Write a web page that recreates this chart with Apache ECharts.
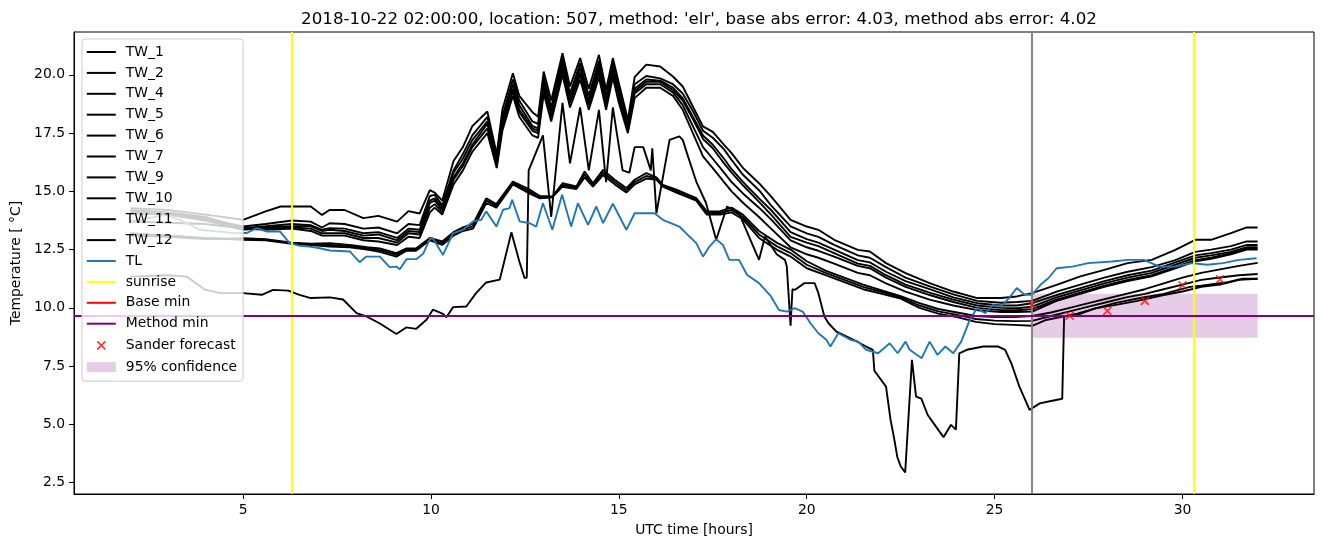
<!DOCTYPE html>
<html>
<head>
<meta charset="utf-8">
<script src="https://cdn.jsdelivr.net/npm/echarts@6/dist/echarts.min.js"></script>
<style>html,body{margin:0;padding:0;background:#fff}#c{width:1324px;height:547px}</style>
</head>
<body>
<div id="c"></div>
<script>
const titleText = "2018-10-22 02:00:00, location: 507, method: 'elr', base abs error: 4.03, method abs error: 4.02";
const xTicks = [5, 10, 15, 20, 25, 30];
const yTicks = [2.5, 5.0, 7.5, 10.0, 12.5, 15.0, 17.5, 20.0];

const tw1 = [[2,14.28],[3,14.2],[4,14.0],[5,13.78],[5.6,14.14],[6.0,14.35],[6.8,14.35],[7.1,13.99],[7.3,14.2],[7.7,14.2],[8.2,13.85],[8.6,13.95],[9.1,13.7],[9.4,14.15],[9.7,14.05],[9.97,15.05],[10.1,14.95],[10.3,14.6],[10.6,16.3],[10.85,16.9],[11.1,17.8],[11.5,18.43],[11.75,16.6],[11.9,18.5],[12.18,20.07],[12.35,19.1],[12.7,18.4],[12.85,18.2],[13.0,20.14],[13.2,18.9],[13.5,20.93],[13.7,19.5],[13.97,20.72],[14.2,19.4],[14.47,20.86],[14.66,19.36],[14.84,20.72],[15.0,19.65],[15.24,18.07],[15.42,19.9],[15.73,20.44],[16.1,20.36],[16.44,19.93],[16.7,19.5],[16.97,18.64],[17.24,17.79],[17.5,17.55],[17.8,17.0],[18.0,16.64],[18.31,15.99],[18.73,15.35],[19.05,14.78],[19.57,13.78],[20.0,13.49],[20.31,13.35],[20.73,12.92],[21.36,12.49],[21.68,12.42],[22.11,11.92],[22.63,11.49],[23.27,11.06],[23.9,10.70],[24.54,10.42],[25.17,10.42],[25.59,10.49],[26.0,10.63],[26.65,10.99],[27.28,11.35],[27.92,11.63],[28.54,11.92],[29.18,12.06],[29.81,12.49],[30.34,12.92],[30.76,12.92],[31.29,13.21],[31.71,13.45],[32,13.45]];
const tw2 = [[2,14.14],[3,14.05],[4,13.85],[5,13.49],[5.6,13.6],[6.3,13.75],[6.8,13.7],[7.1,13.45],[7.3,13.63],[7.7,13.6],[8.2,13.4],[8.6,13.45],[9.1,13.2],[9.4,13.6],[9.7,13.55],[9.97,14.8],[10.1,14.85],[10.3,14.4],[10.6,15.9],[10.85,16.6],[11.1,17.4],[11.5,18.2],[11.75,16.5],[11.9,18.2],[12.18,19.8],[12.35,18.9],[12.7,18.0],[12.85,17.9],[13.0,19.9],[13.2,18.6],[13.5,20.7],[13.7,19.2],[13.97,20.5],[14.2,19.1],[14.47,20.6],[14.66,19.1],[14.84,20.5],[15.0,19.4],[15.24,17.9],[15.42,19.6],[15.73,19.95],[16.1,19.85],[16.44,19.6],[16.7,19.2],[16.97,18.45],[17.24,17.6],[17.5,17.3],[17.8,16.8],[18.0,16.35],[18.31,15.7],[18.73,15.05],[19.05,14.4],[19.57,13.5],[20.0,13.2],[20.31,13.05],[20.73,12.7],[21.36,12.25],[21.68,12.15],[22.11,11.75],[22.63,11.3],[23.27,10.92],[23.9,10.58],[24.54,10.3],[25.17,10.22],[25.59,10.25],[26.0,10.3],[26.65,10.7],[27.28,11.0],[27.92,11.3],[28.54,11.55],[29.18,11.75],[29.81,12.05],[30.34,12.4],[30.76,12.5],[31.29,12.65],[31.71,12.85],[32,12.85]];
const tw4 = [[2,14.2],[3,14.1],[4,13.9],[5,13.42],[5.6,13.5],[6.3,13.6],[6.8,13.55],[7.1,13.35],[7.3,13.42],[7.7,13.4],[8.2,13.2],[8.6,13.25],[9.1,13.0],[9.4,13.4],[9.7,13.35],[9.97,14.6],[10.1,14.7],[10.3,14.3],[10.6,15.8],[10.85,16.4],[11.1,17.2],[11.5,18.0],[11.75,16.4],[11.9,18.0],[12.18,19.6],[12.35,18.7],[12.7,17.8],[12.85,17.7],[13.0,19.7],[13.2,18.4],[13.5,20.5],[13.7,19.0],[13.97,20.3],[14.2,18.9],[14.47,20.4],[14.66,18.9],[14.84,20.3],[15.0,19.2],[15.24,17.8],[15.42,19.4],[15.73,19.8],[16.1,19.75],[16.44,19.45],[16.7,19.0],[16.97,18.2],[17.24,17.4],[17.5,17.0],[17.8,16.4],[18.0,15.95],[18.31,15.4],[18.73,14.7],[19.05,14.2],[19.57,13.25],[20.0,12.95],[20.31,12.8],[20.73,12.5],[21.36,12.05],[21.68,11.95],[22.11,11.55],[22.63,11.15],[23.27,10.8],[23.9,10.45],[24.54,10.2],[25.17,10.1],[25.59,10.1],[26.0,10.2],[26.65,10.55],[27.28,10.85],[27.92,11.15],[28.54,11.4],[29.18,11.6],[29.81,11.95],[30.34,12.25],[30.76,12.35],[31.29,12.5],[31.71,12.7],[32,12.7]];
const tw5 = [[2,14.05],[3,14.0],[4,13.75],[5,13.35],[5.6,13.45],[6.3,13.5],[6.8,13.5],[7.1,13.3],[7.3,13.35],[7.7,13.3],[8.2,13.1],[8.6,13.15],[9.1,12.9],[9.4,13.3],[9.7,13.25],[9.97,14.5],[10.1,14.6],[10.3,14.2],[10.6,15.6],[10.85,16.2],[11.1,17.0],[11.5,17.9],[11.75,16.3],[11.9,17.9],[12.18,19.4],[12.35,18.5],[12.7,17.7],[12.85,17.6],[13.0,19.5],[13.2,18.3],[13.5,20.3],[13.7,18.9],[13.97,20.1],[14.2,18.8],[14.47,20.2],[14.66,18.8],[14.84,20.2],[15.0,19.1],[15.24,17.7],[15.42,19.3],[15.73,19.7],[16.1,19.7],[16.44,19.35],[16.7,18.9],[16.97,18.1],[17.24,17.25],[17.5,16.85],[17.8,16.2],[18.0,15.8],[18.31,15.25],[18.73,14.55],[19.05,14.0],[19.57,13.05],[20.0,12.8],[20.31,12.65],[20.73,12.35],[21.36,11.9],[21.68,11.8],[22.11,11.4],[22.63,11.0],[23.27,10.65],[23.9,10.35],[24.54,10.1],[25.17,10.0],[25.59,9.98],[26.0,10.05],[26.65,10.45],[27.28,10.75],[27.92,11.05],[28.54,11.3],[29.18,11.5],[29.81,11.85],[30.34,12.15],[30.76,12.25],[31.29,12.4],[31.71,12.6],[32,12.6]];
const tw6 = [[2,14.1],[3,14.0],[4,13.8],[5,13.45],[5.6,13.4],[6.3,13.45],[6.8,13.4],[7.1,13.2],[7.3,13.2],[7.7,13.2],[8.2,13.0],[8.6,13.0],[9.1,12.8],[9.4,13.2],[9.7,13.15],[9.97,14.3],[10.1,14.45],[10.3,14.1],[10.6,15.5],[10.85,16.1],[11.1,16.9],[11.5,17.7],[11.75,16.2],[11.9,17.8],[12.18,19.3],[12.35,18.4],[12.7,17.6],[12.85,17.5],[13.0,19.4],[13.2,18.2],[13.5,20.2],[13.7,18.8],[13.97,20.0],[14.2,18.7],[14.47,20.1],[14.66,18.7],[14.84,20.1],[15.0,19.0],[15.24,17.6],[15.42,19.2],[15.73,19.6],[16.1,19.6],[16.44,19.25],[16.7,18.7],[16.97,17.8],[17.24,16.9],[17.5,16.4],[17.8,15.8],[18.0,15.4],[18.31,14.9],[18.73,14.3],[19.05,13.8],[19.57,12.9],[20.0,12.6],[20.31,12.45],[20.73,12.2],[21.36,11.8],[21.68,11.7],[22.11,11.3],[22.63,10.9],[23.27,10.55],[23.9,10.25],[24.54,10.0],[25.17,9.9],[25.59,9.9],[26.0,9.94],[26.65,10.35],[27.28,10.65],[27.92,10.95],[28.54,11.2],[29.18,11.4],[29.81,11.75],[30.34,12.05],[30.76,12.15],[31.29,12.35],[31.71,12.55],[32,12.55]];
const tw7 = [[2,13.7],[3,13.65],[4,13.6],[5,13.4],[5.6,13.35],[6.3,13.4],[6.8,13.3],[7.1,13.1],[7.3,13.1],[7.7,13.1],[8.2,12.9],[8.6,12.85],[9.1,12.7],[9.4,13.05],[9.7,13.0],[9.97,14.1],[10.1,14.3],[10.3,14.0],[10.6,15.3],[10.85,15.9],[11.1,16.7],[11.5,17.5],[11.75,16.0],[11.9,17.6],[12.18,19.1],[12.35,18.2],[12.7,17.4],[12.85,17.3],[13.0,19.2],[13.2,18.0],[13.5,20.0],[13.7,18.6],[13.97,19.8],[14.2,18.5],[14.47,19.9],[14.66,18.5],[14.84,19.9],[15.0,18.8],[15.24,17.5],[15.42,19.0],[15.73,19.45],[16.1,19.45],[16.44,19.1],[16.7,18.5],[16.97,17.5],[17.24,16.5],[17.5,16.0],[17.8,15.4],[18.0,15.0],[18.31,14.5],[18.73,13.9],[19.05,13.4],[19.57,12.6],[20.0,12.3],[20.31,12.15],[20.73,11.9],[21.36,11.5],[21.68,11.4],[22.11,11.05],[22.63,10.7],[23.27,10.35],[23.9,10.1],[24.54,9.9],[25.17,9.82],[25.59,9.82],[26.0,9.84],[26.65,10.3],[27.28,10.6],[27.92,10.9],[28.54,11.15],[29.18,11.35],[29.81,11.7],[30.34,12.0],[30.76,12.1],[31.29,12.3],[31.71,12.5],[32,12.5]];
const tw9 = [[2,13.1],[3,13.05],[4,12.95],[5,12.99],[5.6,12.95],[6.3,12.8],[6.8,12.75],[7.3,12.78],[7.84,12.7],[8.3,12.6],[8.64,12.55],[9.08,12.35],[9.35,12.55],[9.6,12.55],[9.97,13.0],[10.3,12.85],[10.6,13.25],[10.85,13.45],[11.12,13.6],[11.47,14.7],[11.74,14.45],[12.18,15.42],[12.63,15.07],[12.9,14.8],[13.23,14.78],[13.5,15.35],[13.87,15.21],[14.09,15.85],[14.31,15.35],[14.58,15.92],[14.89,15.5],[15.2,15.14],[15.42,15.5],[15.73,15.78],[16.0,15.6],[16.17,15.28],[16.53,15.07],[17.06,14.71],[17.34,14.14],[17.7,14.15],[18.0,14.3],[18.3,14.0],[18.73,13.3],[19.2,12.8],[19.57,12.5],[20.0,12.0],[20.5,11.6],[21.0,11.3],[21.5,11.0],[22.0,10.75],[22.5,10.5],[23.0,10.2],[23.5,9.95],[24.0,9.8],[24.5,9.65],[25.0,9.6],[25.5,9.6],[26.0,9.65],[26.5,9.8],[27.0,10.0],[27.5,10.2],[28.0,10.4],[28.5,10.6],[29.0,10.8],[29.5,11.05],[30.0,11.3],[30.5,11.5],[31.0,11.65],[31.5,11.8],[32,11.93]];
const tw10 = [[2,13.2],[3,13.1],[4,13.0],[5,12.92],[5.6,12.9],[6.3,12.75],[6.8,12.7],[7.3,12.63],[7.84,12.6],[8.3,12.5],[8.64,12.4],[9.08,12.2],[9.35,12.45],[9.6,12.45],[9.97,12.9],[10.3,12.7],[10.6,13.1],[10.85,13.3],[11.12,13.4],[11.47,14.5],[11.74,14.3],[12.18,15.3],[12.63,14.9],[12.9,14.7],[13.23,14.75],[13.5,15.2],[13.87,15.1],[14.09,15.6],[14.31,15.2],[14.58,15.7],[14.89,15.3],[15.2,14.95],[15.42,15.3],[15.73,15.55],[16.0,15.5],[16.17,15.2],[16.53,14.95],[17.06,14.6],[17.34,14.0],[17.7,14.0],[18.0,14.1],[18.3,13.8],[18.73,13.0],[19.2,12.5],[19.57,12.2],[20.0,11.7],[20.5,11.4],[21.0,11.1],[21.5,10.8],[22.0,10.6],[22.5,10.4],[23.0,10.0],[23.5,9.75],[24.0,9.6],[24.5,9.4],[25.0,9.3],[25.5,9.27],[26.0,9.23],[26.37,9.48],[26.82,9.63],[27.2,9.75],[27.68,9.98],[28.3,10.15],[28.8,10.3],[29.5,10.55],[30.0,10.7],[30.5,10.9],[31.0,11.0],[31.5,11.2],[32,11.25]];
const tw11 = [[2,11.34],[3,11.4],[3.5,11.34],[4,10.77],[4.4,10.63],[5,10.63],[5.5,10.56],[5.8,10.77],[6.2,10.74],[6.5,10.56],[6.8,10.42],[7.31,10.45],[7.66,10.36],[8.02,9.77],[8.28,9.63],[8.63,9.34],[9.08,8.88],[9.34,9.16],[9.61,9.10],[9.88,9.49],[10.05,9.92],[10.32,9.74],[10.41,9.60],[10.59,10.03],[10.94,10.06],[11.2,10.63],[11.47,11.09],[11.83,11.21],[12.14,13.24],[12.35,12.0],[12.49,11.28],[12.55,11.3],[12.6,15.9],[12.98,17.4],[13.2,13.9],[13.5,18.8],[13.7,16.2],[13.97,18.6],[14.2,15.9],[14.47,18.5],[14.66,15.4],[14.84,18.6],[15.1,15.9],[15.28,15.8],[15.42,16.9],[15.65,16.9],[15.85,15.9],[15.89,16.85],[16.0,14.06],[16.35,17.21],[16.61,17.36],[16.7,17.21],[16.84,16.5],[17.06,15.42],[17.32,14.5],[17.59,12.92],[17.62,12.92],[17.88,14.35],[18.2,14.06],[18.73,12.06],[18.89,13.06],[19.2,12.3],[19.42,12.06],[19.47,11.77],[19.57,9.23],[19.62,10.8],[19.68,10.77],[19.94,11.06],[20.21,11.06],[20.31,10.63],[20.47,9.63],[20.58,9.34],[20.79,8.98],[21.26,8.62],[21.58,8.34],[21.76,8.2],[21.8,7.3],[22.11,6.62],[22.23,5.2],[22.32,4.45],[22.41,3.6],[22.5,3.2],[22.62,2.93],[22.8,7.77],[22.91,6.19],[23.05,6.1],[23.22,5.4],[23.44,4.9],[23.64,4.45],[23.84,4.98],[23.97,4.77],[24.06,8.05],[24.26,8.2],[24.7,8.34],[25.1,8.34],[25.28,8.2],[25.45,7.6],[25.66,6.62],[25.93,5.62],[26.2,5.9],[26.5,6.0],[26.8,6.1],[26.85,9.63],[27.2,9.7],[27.68,9.98],[28.2,10.2],[28.8,10.4],[29.5,10.6],[30.2,10.9],[30.5,10.95],[31.2,11.1],[31.6,11.25],[32,11.25]];
const tw12 = [[2,13.15],[3,13.1],[4,12.98],[5,12.95],[5.6,12.92],[6.3,12.78],[6.8,12.72],[7.3,12.7],[7.84,12.65],[8.3,12.55],[8.64,12.48],[9.08,12.28],[9.35,12.5],[9.6,12.5],[9.97,12.95],[10.3,12.78],[10.6,13.18],[10.85,13.38],[11.12,13.5],[11.47,14.6],[11.74,14.38],[12.18,15.36],[12.63,14.98],[12.9,14.75],[13.23,14.76],[13.5,15.28],[13.87,15.15],[14.09,15.72],[14.31,15.28],[14.58,15.8],[14.89,15.4],[15.2,15.05],[15.42,15.4],[15.73,15.66],[16.0,15.55],[16.17,15.24],[16.53,15.0],[17.06,14.65],[17.34,14.07],[17.7,14.07],[18.0,14.2],[18.3,13.9],[18.73,13.15],[19.2,12.65],[19.57,12.35],[20.0,11.85],[20.5,11.5],[21.0,11.2],[21.5,10.9],[22.0,10.68],[22.5,10.45],[23.0,10.1],[23.5,9.85],[24.0,9.7],[24.5,9.52],[25.0,9.45],[25.5,9.43],[26.0,9.44],[26.5,9.65],[27.0,9.85],[27.5,10.05],[28.0,10.25],[28.5,10.45],[29.0,10.6],[29.5,10.8],[30.0,11.0],[30.5,11.2],[31.0,11.3],[31.5,11.4],[32,11.45]];
const tl = [[2,13.71],[2.96,13.99],[3.41,13.71],[3.85,13.35],[4.73,13.21],[5.09,13.21],[5.36,13.42],[5.62,13.28],[5.98,13.28],[6.24,12.78],[6.51,12.66],[6.77,12.63],[7.04,12.56],[7.31,12.46],[7.84,12.42],[8.10,11.96],[8.28,12.2],[8.64,12.2],[8.90,11.75],[9.08,11.77],[9.17,11.66],[9.35,12.09],[9.61,12.09],[9.79,12.32],[9.97,12.95],[10.05,12.99],[10.32,12.27],[10.59,13.21],[10.85,13.35],[11.12,13.71],[11.34,13.78],[11.47,14.14],[11.74,13.49],[11.92,14.21],[12.09,14.28],[12.16,14.64],[12.36,13.71],[12.63,13.63],[12.80,13.49],[12.98,14.49],[13.23,13.35],[13.49,14.85],[13.73,13.49],[13.91,14.49],[14.18,13.56],[14.40,14.35],[14.58,13.64],[14.84,14.47],[15.20,13.35],[15.42,14.06],[15.95,14.06],[16.17,13.78],[16.61,13.49],[16.88,13.06],[17.06,12.78],[17.24,12.2],[17.41,12.63],[17.59,12.95],[17.77,12.7],[17.94,12.06],[18.2,12.06],[18.41,11.42],[18.73,11.06],[19.05,10.49],[19.26,9.91],[19.47,9.84],[19.68,9.99],[19.89,9.84],[20.1,9.34],[20.31,8.91],[20.52,8.63],[20.63,8.34],[20.84,8.91],[21.16,8.63],[21.37,8.55],[21.58,8.2],[21.9,8.05],[22.21,8.48],[22.42,8.05],[22.63,8.55],[22.74,8.2],[23.06,7.84],[23.27,8.55],[23.48,7.98],[23.69,8.34],[23.9,8.05],[24.11,8.55],[24.32,9.41],[24.53,9.99],[24.75,9.77],[24.96,10.13],[25.17,10.06],[25.38,10.41],[25.59,10.85],[25.8,10.56],[25.99,10.56],[26.22,10.99],[26.43,11.27],[26.65,11.7],[27.07,11.77],[27.49,11.92],[28.12,11.99],[28.55,12.06],[28.97,12.06],[29.39,11.77],[29.81,11.77],[30.23,11.92],[30.66,11.85],[31.08,11.92],[31.5,12.06],[31.97,12.13]];

const sunriseX = [6.3, 30.3];
const nowX = 26;
const baseMin = 9.66;
const methodMin = 9.66;
const forecastX = [26, 27, 28, 29, 30, 31];
const forecastY = [10.13, 9.66, 9.87, 10.30, 10.97, 11.23];
const confX = [26, 32];
const confY = [8.72, 10.60];

const twNames = ['TW_1','TW_2','TW_4','TW_5','TW_6','TW_7','TW_9','TW_10','TW_11','TW_12'];
const twData = [tw1, tw2, tw4, tw5, tw6, tw7, tw9, tw10, tw11, tw12];

const FONT = 'DejaVu Sans';
const FS = 13.9;
const LW = 1.9;
const lineIcon = 'path://M0,0M29,14M0,6L29,6L29,8L0,8Z';
const xIcon = 'path://M0,0M29,14M10.5,3L18.5,11M18.5,3L10.5,11';
const rectIcon = 'path://M0,0M29,14M0,2L29,2L29,12L0,12Z';

const series = [];
twData.forEach((d, i) => {
  series.push({
    name: twNames[i], type: 'line', data: d, symbol: 'none', z: 2,
    lineStyle: { color: '#000', width: LW }, itemStyle: { color: '#000' }
  });
});
series.push({ name: 'TL', type: 'line', data: tl, symbol: 'none', z: 2,
  lineStyle: { color: '#1f77b4', width: LW }, itemStyle: { color: '#1f77b4' } });
series.push({ name: 'sunrise', type: 'line', data: [], symbol: 'none', z: 3,
  itemStyle: { color: '#ffff00' },
  markLine: { silent: true, symbol: 'none', animation: false, label: { show: false },
    lineStyle: { color: '#ffff00', width: LW, type: 'solid' },
    data: sunriseX.map(v => ({ xAxis: v })) } });
series.push({ name: 'now', type: 'line', data: [], symbol: 'none', z: 3,
  markLine: { silent: true, symbol: 'none', animation: false, label: { show: false },
    lineStyle: { color: '#808080', width: LW, type: 'solid' },
    data: [{ xAxis: nowX }] } });
series.push({ name: 'Base min', type: 'line', data: [], symbol: 'none', z: 3,
  itemStyle: { color: '#ff0000' },
  markLine: { silent: true, symbol: 'none', animation: false, label: { show: false },
    lineStyle: { color: '#ff0000', width: LW, type: 'solid' },
    data: [{ yAxis: baseMin }] } });
series.push({ name: 'Method min', type: 'line', data: [], symbol: 'none', z: 4,
  itemStyle: { color: '#800080' },
  markLine: { silent: true, symbol: 'none', animation: false, label: { show: false },
    lineStyle: { color: '#800080', width: LW, type: 'solid' },
    data: [{ yAxis: methodMin }] } });
series.push({ name: '95% confidence', type: 'line', data: [], symbol: 'none', z: 4,
  itemStyle: { color: 'rgba(128,0,128,0.2)' },
  markArea: { silent: true, animation: false, itemStyle: { color: 'rgba(128,0,128,0.2)' },
    data: [[{ coord: [confX[0], confY[0]] }, { coord: [confX[1], confY[1]] }]] } });
series.push({ name: 'Sander forecast', type: 'scatter', z: 5,
  data: forecastX.map((x, i) => [x, forecastY[i]]),
  symbol: 'path://M0,0L10,10M10,0L0,10', symbolSize: 8,
  itemStyle: { color: '#ff0000', borderColor: '#ff0000', borderWidth: 1.5 } });

const legendData = twNames.map(n => ({ name: n, icon: lineIcon, itemStyle: { color: '#000' } }));
legendData.push({ name: 'TL', icon: lineIcon, itemStyle: { color: '#1f77b4' } });
legendData.push({ name: 'sunrise', icon: lineIcon, itemStyle: { color: '#ffff00' } });
legendData.push({ name: 'Base min', icon: lineIcon, itemStyle: { color: '#ff0000' } });
legendData.push({ name: 'Method min', icon: lineIcon, itemStyle: { color: '#800080' } });
legendData.push({ name: 'Sander forecast', icon: xIcon, itemStyle: { color: '#ff0000', borderColor: '#ff0000', borderWidth: 1.6 } });
legendData.push({ name: '95% confidence', icon: rectIcon, itemStyle: { color: 'rgba(128,0,128,0.2)' } });

const chart = echarts.init(document.getElementById('c'), null, { renderer: 'canvas' });
chart.setOption({
  animation: false,
  backgroundColor: '#fff',
  textStyle: { fontFamily: FONT },
  title: { text: titleText, left: 694, top: 6, textAlign: 'center',
    textStyle: { fontFamily: FONT, fontSize: 16.7, fontWeight: 'normal', color: '#000' } },
  grid: { left: 74, top: 32, width: 1240, height: 462, show: true, borderColor: '#000', borderWidth: 1, backgroundColor: 'transparent' },
  legend: {
    orient: 'vertical', left: 82, top: 39, data: legendData,
    itemWidth: 29, itemHeight: 14, itemGap: 6.9,
    padding: [6, 6, 7, 4],
    backgroundColor: 'rgba(255,255,255,0.8)', borderColor: '#cccccc', borderWidth: 1, borderRadius: 3,
    textStyle: { fontFamily: FONT, fontSize: FS, color: '#000', padding: [0, 0, 0, 5] },
    selectedMode: false, z: 10
  },
  xAxis: {
    type: 'value', min: 0.5, max: 33.5,
    name: 'UTC time [hours]', nameLocation: 'middle', nameGap: 29,
    nameTextStyle: { fontFamily: FONT, fontSize: FS, color: '#000' },
    axisLine: { show: true, onZero: false, lineStyle: { color: '#000', width: 1 } },
    axisTick: { show: true, length: 5, customValues: xTicks, lineStyle: { color: '#000' } },
    axisLabel: { customValues: xTicks, fontFamily: FONT, fontSize: FS, color: '#000', margin: 9 },
    splitLine: { show: false }
  },
  yAxis: {
    type: 'value', min: 2.01, max: 21.84,
    name: 'Temperature [ °C]', nameLocation: 'middle', nameGap: 50,
    nameTextStyle: { fontFamily: FONT, fontSize: FS, color: '#000' },
    axisLine: { show: true, onZero: false, lineStyle: { color: '#000', width: 1 } },
    axisTick: { show: true, length: 5, customValues: yTicks, lineStyle: { color: '#000' } },
    axisLabel: { customValues: yTicks, fontFamily: FONT, fontSize: FS, color: '#000', margin: 9,
      formatter: v => v.toFixed(1) },
    splitLine: { show: false }
  },
  series: series
});
</script>
</body>
</html>
